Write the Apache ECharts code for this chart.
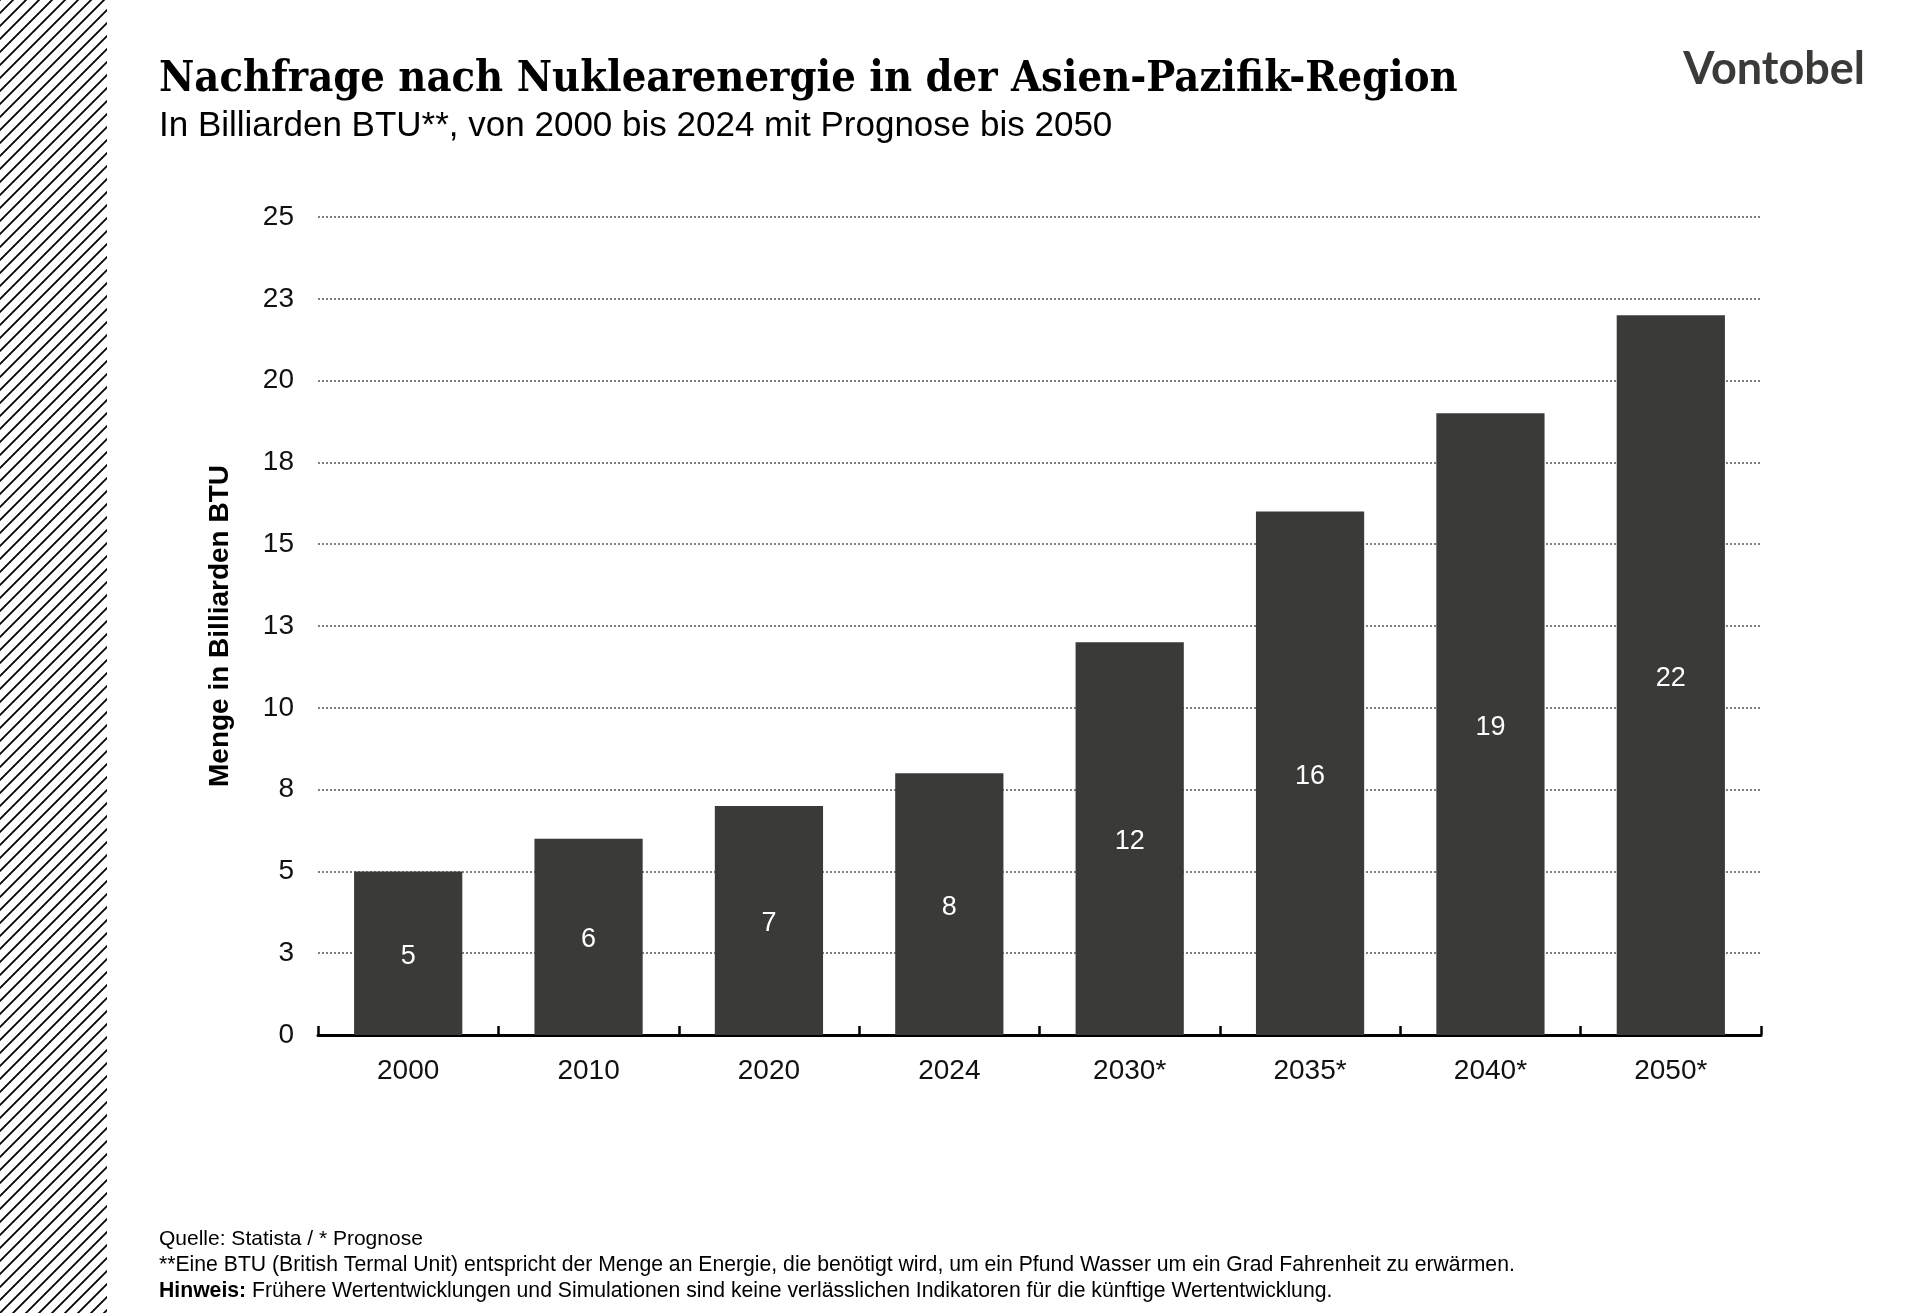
<!DOCTYPE html>
<html>
<head>
<meta charset="utf-8">
<title>Nachfrage nach Nuklearenergie</title>
<script src="https://cdn.jsdelivr.net/npm/echarts@6/dist/echarts.min.js"></script>
<style>
  html, body { margin: 0; padding: 0; background: #fff; }
  #chart { width: 1920px; height: 1313px; }
</style>
</head>
<body>
<div id="chart"></div>
<script>
// Daten
var categories = ['2000', '2010', '2020', '2024', '2030*', '2035*', '2040*', '2050*'];
var demand = [5, 6, 7, 8, 12, 16, 19, 22];
// Achsenbeschriftung wie im Original (gerundete 2,5er-Schritte)
var yTickLabels = ['0', '3', '5', '8', '10', '13', '15', '18', '20', '23', '25'];

var barColor = '#3a3b38';
var sans = 'Liberation Sans, Arial, sans-serif';

// Schraffur links
function hatchPattern() {
    var size = 13;
    var c = document.createElement('canvas');
    c.width = size;
    c.height = size;
    var ctx = c.getContext('2d');
    ctx.strokeStyle = '#000';
    ctx.lineWidth = 1.8;
    ctx.beginPath();
    ctx.moveTo(0, size); ctx.lineTo(size, 0);
    ctx.moveTo(-size / 2, size / 2); ctx.lineTo(size / 2, -size / 2);
    ctx.moveTo(size / 2, size * 1.5); ctx.lineTo(size * 1.5, size / 2);
    ctx.stroke();
    return c;
}

var myChart = echarts.init(document.getElementById('chart'));

var option = {
    backgroundColor: '#fff',
    animation: false,
    grid: {
        left: 318,
        right: 159,
        top: 217,
        bottom: 278
    },
    xAxis: {
        type: 'category',
        data: categories,
        axisLine: {
            lineStyle: { color: '#000', width: 3 }
        },
        axisTick: {
            show: true,
            inside: true,
            length: 9,
            lineStyle: { color: '#000', width: 2.5 }
        },
        axisLabel: {
            margin: 22,
            fontSize: 28,
            color: '#111',
            fontFamily: sans
        }
    },
    yAxis: {
        type: 'value',
        min: 0,
        max: 25,
        interval: 2.5,
        name: 'Menge in Billiarden BTU',
        nameLocation: 'middle',
        nameGap: 84,
        nameTextStyle: {
            fontSize: 28,
            fontWeight: 'bold',
            color: '#000',
            fontFamily: sans
        },
        axisLine: { show: false },
        axisTick: { show: false },
        axisLabel: {
            margin: 24,
            fontSize: 28,
            color: '#111',
            fontFamily: sans,
            formatter: function (v) {
                return yTickLabels[Math.round(v / 2.5)];
            }
        },
        splitLine: {
            lineStyle: { color: '#555', width: 1.5, type: [2, 2] }
        }
    },
    series: [{
        type: 'bar',
        data: demand,
        barWidth: '60%',
        itemStyle: { color: barColor },
        label: {
            show: true,
            position: 'inside',
            offset: [0, 3],
            color: '#fff',
            fontSize: 27,
            fontFamily: sans
        }
    }],
    graphic: [
        {
            type: 'rect',
            left: 0,
            top: 0,
            shape: { width: 107, height: 1313 },
            style: { fill: { image: hatchPattern(), repeat: 'repeat' } },
            silent: true
        },
        {
            type: 'text',
            left: 159,
            top: 58,
            style: {
                text: 'Nachfrage nach Nuklearenergie in der Asien-Pazifik-Region',
                fontSize: 43,
                fontWeight: 'bold',
                fontFamily: '"DejaVu Serif Condensed", "DejaVu Serif", Georgia, serif',
                fill: '#000'
            }
        },
        {
            type: 'text',
            left: 159,
            top: 109,
            style: {
                text: 'In Billiarden BTU**, von 2000 bis 2024 mit Prognose bis 2050',
                fontSize: 35,
                fontFamily: sans,
                fill: '#000'
            }
        },
        {
            type: 'text',
            right: 55,
            top: 47,
            style: {
                text: 'Vontobel',
                fontSize: 45,
                fontWeight: 'bold',
                fontFamily: 'Lato, Inter, sans-serif',
                fill: '#3a3b38'
            }
        },
        {
            type: 'text',
            left: 159,
            top: 1229,
            style: {
                text: 'Quelle: Statista / * Prognose',
                fontSize: 21,
                fontFamily: sans,
                fill: '#000'
            }
        },
        {
            type: 'text',
            left: 159,
            top: 1255,
            style: {
                text: '**Eine BTU (British Termal Unit) entspricht der Menge an Energie, die benötigt wird, um ein Pfund Wasser um ein Grad Fahrenheit zu erwärmen.',
                fontSize: 21.2,
                fontFamily: sans,
                fill: '#000'
            }
        },
        {
            type: 'text',
            left: 159,
            top: 1281,
            style: {
                text: '{b|Hinweis:} Frühere Wertentwicklungen und Simulationen sind keine verlässlichen Indikatoren für die künftige Wertentwicklung.',
                fontSize: 21.2,
                fontFamily: sans,
                fill: '#000',
                rich: {
                    b: { fontSize: 21.2, fontWeight: 'bold', fontFamily: sans, fill: '#000' }
                }
            }
        }
    ]
};

myChart.setOption(option);
</script>
</body>
</html>
